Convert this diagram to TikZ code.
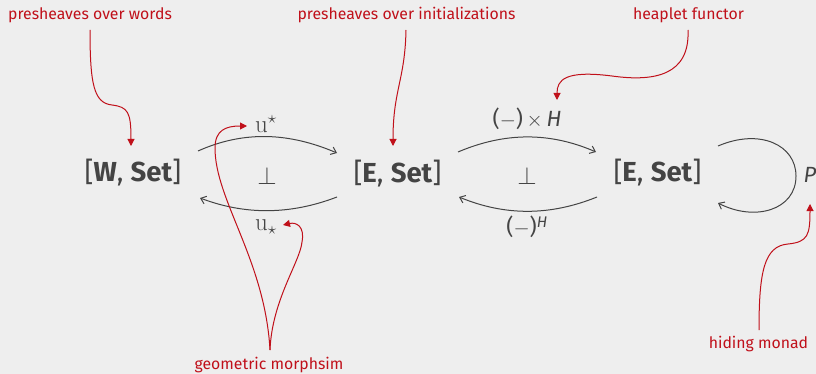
\documentclass[tikz,border=0pt]{standalone}
\usepackage[no-math]{fontspec}
\setmainfont{Fira Sans}
\usetikzlibrary{arrows.meta}
\definecolor{bg}{HTML}{EEEEEE}
\definecolor{ink}{HTML}{444444}
\definecolor{anno}{HTML}{C0101A}
\begin{document}
\begin{tikzpicture}[x=1pt,y=-1pt,
  cat/.style={text=ink,font=\fontsize{27.5}{30}\selectfont,inner sep=0pt},
  lbl/.style={text=ink,font=\fontsize{22}{26}\selectfont,inner sep=0pt},
  note/.style={text=anno,font=\fontsize{15.8}{18}\selectfont,inner sep=0pt},
  fun/.style={draw=ink,line width=1pt,-{Straight Barb[length=5pt,width=8pt]}},
  ptr/.style={draw=anno,line width=1pt,-{Triangle[length=7pt,width=7pt]}}]
\fill[bg] (0,0) rectangle (816,374);
\useasboundingbox (0,0) rectangle (816,374);
% categories
\node[cat] (W) at (133,173) {[\textbf{W}, \textbf{Set}]};
\node[cat] (E1) at (397.5,174) {[\textbf{E}, \textbf{Set}]};
\node[cat] (E2) at (657.5,173) {[\textbf{E}, \textbf{Set}]};
% labels
\node[lbl,font=\fontsize{23}{26}\selectfont] (us) at (266,124) {$\mathrm{u}^{\star}$};
\node[lbl,font=\fontsize{25}{28}\selectfont] (bot1) at (267,176) {$\perp$};
\node[lbl,font=\fontsize{23}{26}\selectfont] (ul) at (266,227) {$\mathrm{u}_{\star}$};
\node[lbl] (xh) at (527,119) {($-$)\,$\times$\,\textit{H}};
\node[lbl,font=\fontsize{25}{28}\selectfont] (bot2) at (527,176) {$\perp$};
\node[lbl] (ph) at (527,227) {($-$)\textsuperscript{\textit{H}}};
\node[lbl] (P) at (810,175) {\textit{P}};
% annotations
\node[note] (n1) at (90,15) {presheaves over words};
\node[note] (n2) at (406.5,15) {presheaves over initializations};
\node[note] (n3) at (688.5,15) {heaplet functor};
\node[note] (n4) at (269,365) {geometric morphsim};
\node[note] (n5) at (758.5,344) {hiding monad};
% connector end points
\coordinate (a1) at (198,151); \coordinate (a2) at (337,153);
\coordinate (b1) at (337,197); \coordinate (b2) at (200,198);
\coordinate (c1) at (458,152); \coordinate (c2) at (596,152);
\coordinate (d1) at (597,197); \coordinate (d2) at (459,197);
\coordinate (l1) at (718,146); \coordinate (l2) at (718,203);
% functor arrows
\draw[fun] (a1) .. controls (245,130) and (290,133) .. (a2);
\draw[fun] (b1) .. controls (290,215) and (245,215) .. (b2);
\draw[fun] (c1) .. controls (505,132) and (550,132) .. (c2);
\draw[fun] (d1) .. controls (550,216) and (505,216) .. (d2);
\draw[fun] (l1) .. controls (760,128) and (796,145) .. (796,176) .. controls (796,210) and (755,222) .. (l2);
% annotation pointers
\coordinate (p1s) at (90,30); \coordinate (p1e) at (131,146);
\coordinate (p2s) at (406,30); \coordinate (p2e) at (393,146);
\coordinate (p3s) at (688,30); \coordinate (p3e) at (557,100);
\coordinate (p4s) at (270,350); \coordinate (p4a) at (247,126); \coordinate (p4b) at (283,225);
\coordinate (p5s) at (759,330); \coordinate (p5e) at (810,204);
\draw[ptr] (p1s) .. controls (90,85) and (94,103) .. (112,105) .. controls (128,107) and (131,112) .. (p1e);
\draw[ptr] (p2s) .. controls (405,80) and (393,90) .. (p2e);
\draw[ptr] (p3s) .. controls (690,75) and (655,82) .. (612,76) .. controls (565,70) and (557,80) .. (p3e);
\draw[ptr] (p4s) .. controls (265,260) and (215,200) .. (215,148) .. controls (215,130) and (226,126) .. (p4a);
\draw[ptr] (p4s) .. controls (272,300) and (300,262) .. (302,242) .. controls (305,226) and (296,222) .. (p4b);
\draw[ptr] (p5s) .. controls (759,272) and (764,246) .. (788,244) .. controls (808,242) and (810,235) .. (p5e);
\end{tikzpicture}
\end{document}
